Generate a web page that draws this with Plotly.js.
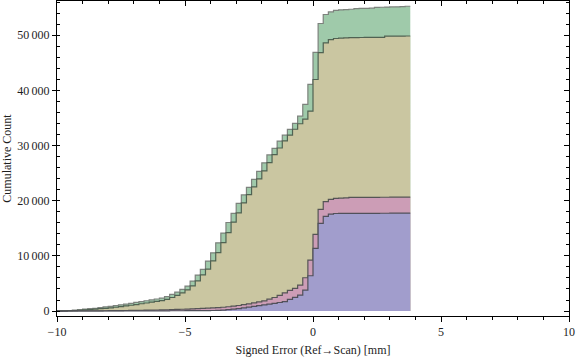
<!DOCTYPE html>
<html>
<head>
<meta charset="utf-8">
<script src="https://cdn.plot.ly/plotly-3.0.1.min.js"></script>
<style>html,body{margin:0;padding:0;background:#fff;}#chart{width:576px;height:357px;}</style>
</head>
<body>
<div id="chart"></div>
<script>
// Bin edges (mm), bin width 0.2
const binStarts = [-10.0,-9.8,-9.6,-9.4,-9.2,-9.0,-8.8,-8.6,-8.4,-8.2,-8.0,-7.8,-7.6,-7.4,-7.2,-7.0,-6.8,-6.6,-6.4,-6.2,
  -6.0,-5.8,-5.6,-5.4,-5.2,-5.0,-4.8,-4.6,-4.4,-4.2,-4.0,-3.8,-3.6,-3.4,-3.2,-3.0,-2.8,-2.6,-2.4,-2.2,
  -2.0,-1.8,-1.6,-1.4,-1.2,-1.0,-0.8,-0.6,-0.4,-0.2,0.0,0.2,0.4,0.6,0.8,1.0,1.2,1.4,1.6,1.8,
  2.0,2.2,2.4,2.6,2.8,3.0,3.2,3.4,3.6];
const lastEdge = 3.8;

// Cumulative counts (top boundary of each filled layer)
const greenCum = [40,60,90,150,250,330,420,500,620,740,860,980,1120,1260,1400,1560,1700,1860,2020,2180,
  2350,2620,3020,3440,3930,4530,5430,6520,7550,9060,10560,12370,14130,16050,17700,19510,21050,22400,23880,25300,
  26870,28300,29470,30800,31880,32920,34000,35330,37450,41070,46900,52120,53750,54220,54500,54600,54650,54700,54830,54850,
  54870,54900,55050,55070,55100,55130,55150,55170,55250];
const tanCum = [20,40,60,90,140,200,270,340,420,500,590,690,800,920,1050,1180,1320,1460,1600,1750,
  1900,2100,2450,2850,3300,3850,4550,5450,6550,7600,9100,10600,12400,14200,16100,17800,19600,21100,22500,23950,
  25400,26900,28350,29550,30850,31900,32950,33950,34800,36230,41970,46860,48600,49210,49400,49480,49520,49550,49570,49580,
  49590,49600,49610,49620,49820,49830,49840,49850,49860];
const pinkCum = [0,5,10,15,20,25,30,35,40,50,60,70,80,95,110,125,140,155,170,190,
  210,230,260,290,320,360,400,440,480,520,560,620,690,780,880,1000,1150,1300,1470,1650,
  1850,2150,2450,2850,3300,3750,4100,4700,6030,9240,13900,18420,19850,20250,20420,20460,20500,20600,20600,20610,
  20610,20620,20620,20630,20630,20640,20640,20650,20650];
const blueCum = [0,0,2,4,6,8,10,10,10,10,10,12,14,16,18,20,24,28,32,36,
  40,44,48,52,56,60,64,70,80,90,100,130,180,250,330,430,560,700,840,980,
  1120,1260,1400,1550,1690,2120,2480,2900,3800,6400,11360,15890,17150,17550,17680,17700,17700,17700,17700,17710,
  17710,17720,17720,17730,17730,17740,17740,17750,17750];

const xTickVals = [-10,-5,0,5,10];
const xTickText = ["\u221210","\u22125","0","5","10"];
const yTickVals = [0,10000,20000,30000,40000,50000];
const yTickText = ["0","10\u2009000","20\u2009000","30\u2009000","40\u2009000","50\u2009000"];

function stepTrace(vals, fill, line, lw){
  return {
    type:'scatter', mode:'lines',
    x: binStarts.concat([lastEdge]),
    y: vals.concat([vals[vals.length-1]]),
    line:{shape:'hv', color:line, width:lw},
    fill:'tozeroy', fillcolor:fill,
    hoverinfo:'skip', showlegend:false
  };
}

const traces = [
  stepTrace(greenCum, 'rgb(159,202,170)', 'rgb(125,130,125)', 1.2),
  stepTrace(tanCum,   'rgb(202,198,161)', 'rgb(80,98,82)', 1.2),
  stepTrace(pinkCum,  'rgb(204,157,182)', 'rgb(85,85,85)', 1.2),
  stepTrace(blueCum,  'rgb(161,157,204)', 'rgb(80,80,90)', 1.2),
  {type:'scatter', mode:'markers', x:[-10], y:[0], xaxis:'x2', yaxis:'y2',
   marker:{opacity:0}, hoverinfo:'skip', showlegend:false}
];

const yRange = [-900, 56200];
const tickFont = {family:'Liberation Serif, Times New Roman, serif', size:12, color:'#1e1e1e'};

const layout = {
  width:576, height:357,
  margin:{l:57, r:7, t:1, b:41},
  paper_bgcolor:'#fff', plot_bgcolor:'#fff',
  showlegend:false,
  xaxis:{
    range:[-10,10], showgrid:false, zeroline:false,
    showline:true, linecolor:'#000', linewidth:1,
    ticks:'outside', ticklen:5, tickcolor:'#000', tickwidth:1,
    tickmode:'array', tickvals:xTickVals, ticktext:xTickText,
    tickfont:tickFont,
    minor:{tickmode:'linear', tick0:0, dtick:1, ticks:'outside', ticklen:3, tickcolor:'#000', showgrid:false},
    title:{text:'Signed Error (Ref\u2192Scan) [mm]', font:{family:'Liberation Serif, Times New Roman, serif', size:12, color:'#1e1e1e'}, standoff:8}
  },
  yaxis:{
    range:yRange, showgrid:false, zeroline:false,
    showline:true, linecolor:'#000', linewidth:1,
    ticks:'outside', ticklen:4, tickcolor:'#000', tickwidth:1,
    tickmode:'array', tickvals:yTickVals, ticktext:yTickText,
    tickfont:tickFont,
    minor:{tickmode:'linear', tick0:0, dtick:2000, ticks:'inside', ticklen:3, tickcolor:'#000', showgrid:false},
    title:{text:'Cumulative Count', font:{family:'Liberation Serif, Times New Roman, serif', size:12, color:'#1e1e1e'}, standoff:4}
  },
  xaxis2:{
    overlaying:'x', side:'top', anchor:'y2', range:[-10,10], showgrid:false, zeroline:false,
    showline:true, linecolor:'#000', linewidth:1,
    ticks:'inside', ticklen:5, tickcolor:'#000',
    tickmode:'array', tickvals:xTickVals, showticklabels:false,
    minor:{tickmode:'linear', tick0:0, dtick:1, ticks:'inside', ticklen:3, tickcolor:'#000', showgrid:false}
  },
  yaxis2:{
    overlaying:'y', side:'right', anchor:'x2', range:yRange, showgrid:false, zeroline:false,
    showline:true, linecolor:'#000', linewidth:1,
    ticks:'inside', ticklen:5, tickcolor:'#000',
    tickmode:'array', tickvals:yTickVals, showticklabels:false,
    minor:{tickmode:'linear', tick0:0, dtick:2000, ticks:'inside', ticklen:3, tickcolor:'#000', showgrid:false}
  }
};

Plotly.newPlot('chart', traces, layout, {staticPlot:true, displayModeBar:false});
</script>
</body>
</html>
